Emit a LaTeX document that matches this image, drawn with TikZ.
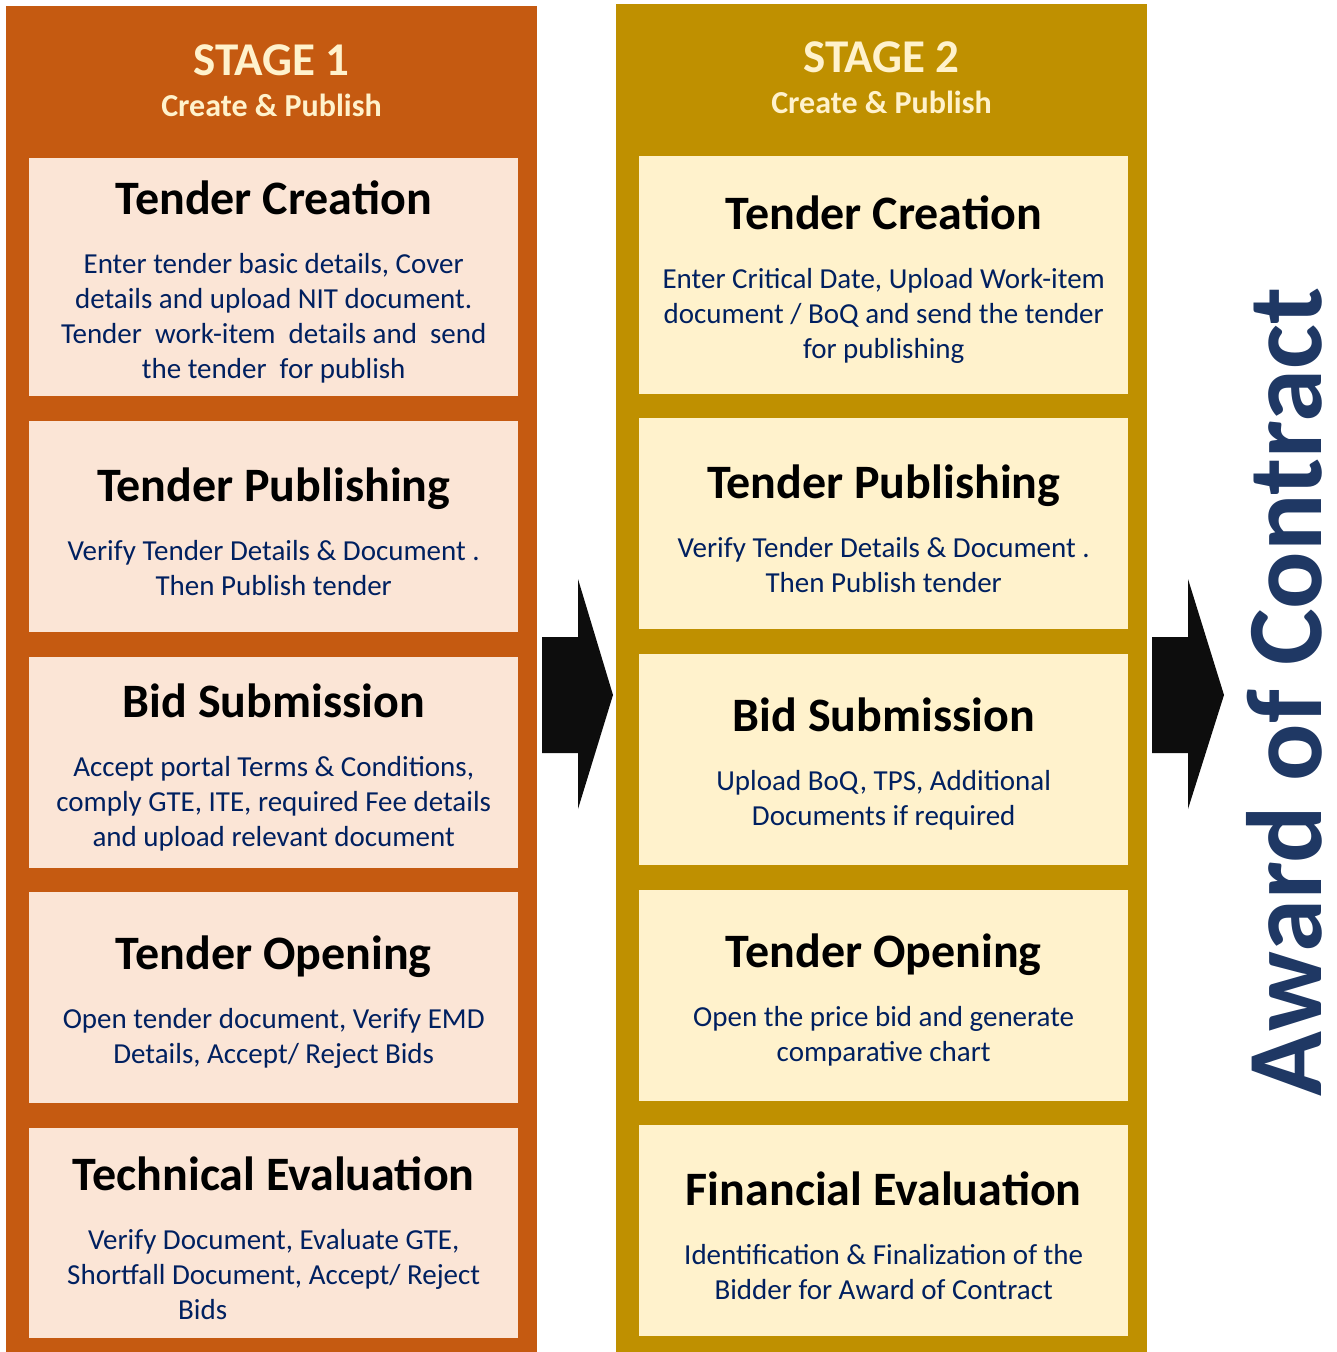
\documentclass[tikz,border=0pt]{standalone}
\usepackage{fontspec}
\setmainfont{Carlito}
\usepackage{tikz}
\usetikzlibrary{positioning, calc}

\definecolor{stageone}{HTML}{C55A11}
\definecolor{stagetwo}{HTML}{BF9000}
\definecolor{cardone}{HTML}{FBE5D6}
\definecolor{cardtwo}{HTML}{FFF2CC}
\definecolor{headtxt}{HTML}{FFF2CC}
\definecolor{bodytxt}{HTML}{002060}
\definecolor{awardtxt}{HTML}{1F3864}
\definecolor{arrowblk}{HTML}{0D0D0D}

\newcommand{\cardttl}[1]{\spaceskip=0pt\xspaceskip=0pt
  \leftskip=0pt plus 1fil\rightskip=0pt plus 1fil\parfillskip=0pt
  {\fontsize{48}{54}\selectfont\bfseries\rule{0pt}{43pt}#1\par}\vspace{24pt}}
\newcommand{\cardbody}[1]{{\fontsize{29}{35}\selectfont\color{bodytxt}#1\par}}

\begin{document}
\begin{tikzpicture}[x=1pt, y=-1pt,
  stagecol/.style={fill=#1, inner sep=0pt, anchor=north west},
  stagettl/.style={text=headtxt, font=\fontsize{47}{47}\selectfont\bfseries, anchor=base},
  stagesub/.style={text=headtxt, font=\fontsize{32}{32}\selectfont\bfseries, anchor=base},
  card/.style={fill=#1, inner sep=0pt, minimum width=489pt, text width=484pt,
               align=flush center, anchor=north west},
  blockarrow/.style={fill=arrowblk}]

% ── Canvas ──────────────────────────────────────────────────
\useasboundingbox[fill=white] (0,0) rectangle (1336,1352);

% ── Stage columns ───────────────────────────────────────────
\node[stagecol=stageone, minimum width=531pt, minimum height=1346pt] (col1) at (6,6) {};
\node[stagecol=stagetwo, minimum width=531pt, minimum height=1348pt] (col2) at (616,4) {};

% ── Stage headers ───────────────────────────────────────────
\node[stagettl] (hd1) at (271.5,75) {STAGE 1};
\node[stagesub] (sub1) at (271.5,116) {Create \& Publish};
\node[stagettl] (hd2) at (881.5,72) {STAGE 2};
\node[stagesub] (sub2) at (881.5,113) {Create \& Publish};

% ── Stage 1 cards ───────────────────────────────────────────
\node[card=cardone, minimum height=238pt] (a1) at (29,158)
  {\cardttl{Tender Creation}\cardbody{Enter tender basic details, Cover\\details and upload NIT document.\\Tender\ \ work-item\ \ details and\ \ send\\the tender\ \ for publish}};
\node[card=cardone, minimum height=211pt] (a2) at (29,421)
  {\cardttl{Tender Publishing}\cardbody{Verify Tender Details \& Document .\\Then Publish tender}};
\node[card=cardone, minimum height=211pt] (a3) at (29,657)
  {\cardttl{Bid Submission}\cardbody{Accept portal Terms \& Conditions,\\comply GTE, ITE, required Fee details\\and upload relevant document}};
\node[card=cardone, minimum height=211pt] (a4) at (29,892)
  {\cardttl{Tender Opening}\cardbody{Open tender document, Verify EMD\\Details, Accept/ Reject Bids}};
\node[card=cardone, minimum height=210pt] (a5) at (29,1128)
  {\cardttl{Technical Evaluation}\cardbody{Verify Document, Evaluate GTE,\\Shortfall Document, Accept/ Reject\\Bids\hspace*{142pt}}};

% ── Stage 2 cards ───────────────────────────────────────────
\node[card=cardtwo, minimum height=238pt] (b1) at (639,156)
  {\cardttl{Tender Creation}\cardbody{Enter Critical Date, Upload Work-item\\document / BoQ and send the tender\\for publishing}};
\node[card=cardtwo, minimum height=211pt] (b2) at (639,418)
  {\cardttl{Tender Publishing}\cardbody{Verify Tender Details \& Document .\\Then Publish tender}};
\node[card=cardtwo, minimum height=211pt] (b3) at (639,654)
  {\cardttl{Bid Submission}\cardbody{Upload BoQ, TPS, Additional\\Documents if required}};
\node[card=cardtwo, minimum height=211pt] (b4) at (639,890)
  {\cardttl{Tender Opening}\cardbody{Open the price bid and generate\\comparative chart}};
\node[card=cardtwo, minimum height=211pt] (b5) at (639,1125)
  {\cardttl{Financial Evaluation}\cardbody{Identification \& Finalization of the\\Bidder for Award of Contract}};

% ── Block arrows ────────────────────────────────────────────
\fill[blockarrow] (542,637) -- (578,637) -- (578,579) -- (613,695)
  -- (578,809) -- (578,753) -- (542,753) -- cycle;
\fill[blockarrow] (1152,637) -- (1188,637) -- (1188,579) -- (1224,695)
  -- (1188,809) -- (1188,753) -- (1152,753) -- cycle;

% ── Award of Contract ───────────────────────────────────────
\node[rotate=90, anchor=base, inner sep=0pt, text=awardtxt,
      font=\fontsize{107}{107}\selectfont\bfseries]
  (award) at (1321,692) {Award of Contract};

\end{tikzpicture}
\end{document}
